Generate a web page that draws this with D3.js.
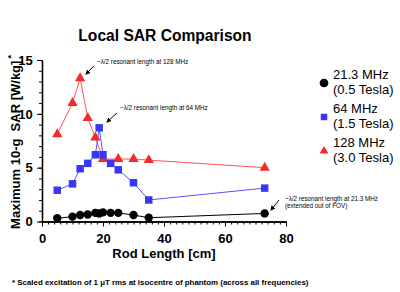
<!DOCTYPE html>
<html>
<head>
<meta charset="utf-8">
<script src="https://cdn.jsdelivr.net/npm/d3@7"></script>
<style>
  body { margin: 0; background: #fff; }
  text { font-family: "Liberation Sans", Arial, sans-serif; }
</style>
</head>
<body>
<svg id="draw" width="400" height="292"></svg>
<script>
// rod lengths (cm) and SAR values
var len21 = [5, 10, 12.5, 15, 17.5, 18.75, 20, 22.5, 25, 30, 35, 73];
var sar21 = [0.3, 0.45, 0.6, 0.65, 0.8, 0.75, 0.85, 0.8, 0.8, 0.6, 0.35, 0.75];
var len64 = [5, 10, 12.5, 15, 17.5, 18.75, 20, 22.5, 25, 30, 35, 73];
var sar64 = [2.9, 3.5, 4.9, 5.4, 6.2, 8.7, 6.2, 5.4, 4.8, 3.6, 2.0, 3.1];
var len128 = [5, 10, 12.5, 15, 17.5, 20, 25, 30, 35, 73];
var sar128 = [8.1, 11.0, 13.3, 9.6, 7.8, 5.8, 5.8, 5.8, 5.7, 5.0];

var xTicks = [0, 20, 40, 60, 80];
var yTicks = [0, 5, 10, 15];
var seriesNames = [["21.3 MHz", "(0.5 Tesla)"], ["64 MHz", "(1.5 Tesla)"], ["128 MHz", "(3.0 Tesla)"]];

var svg = d3.select("#draw");

var xScale = d3.scaleLinear().domain([0, 80]).range([42, 286]);
var yScale = d3.scaleLinear().domain([0, 15]).range([221.5, 60]);

// axes: major ticks with labels, then minor ticks
var xAxis = svg.append("g")
  .attr("transform", "translate(0," + yScale(0) + ")")
  .call(d3.axisBottom(xScale).tickValues(xTicks).tickSize(5).tickSizeOuter(0));
svg.append("g")
  .attr("transform", "translate(0," + yScale(0) + ")")
  .call(d3.axisBottom(xScale).tickValues(d3.range(0, 81, 2)).tickSize(3).tickFormat("").tickSizeOuter(0));

var yAxis = svg.append("g")
  .attr("transform", "translate(" + xScale(0) + ",0)")
  .call(d3.axisLeft(yScale).tickValues(yTicks).tickSize(5).tickSizeOuter(0));
svg.append("g")
  .attr("transform", "translate(" + xScale(0) + ",0)")
  .call(d3.axisLeft(yScale).tickValues(d3.range(0, 16, 1)).tickSize(3).tickFormat("").tickSizeOuter(0));

svg.selectAll(".domain").attr("stroke", "#000").attr("stroke-width", 1.3);
svg.selectAll(".tick line").attr("stroke", "#000").attr("stroke-width", 1);
xAxis.selectAll("text").attr("font-size", 13).attr("font-weight", "bold")
  .attr("font-family", "Liberation Sans").attr("fill", "#000").attr("dy", "1.05em");
yAxis.selectAll("text").attr("font-size", 13).attr("font-weight", "bold")
  .attr("font-family", "Liberation Sans").attr("fill", "#000").attr("dx", "-0.1em");

// title and axis labels
svg.append("text").attr("x", 165).attr("y", 41).attr("text-anchor", "middle")
  .attr("font-size", 15.6).attr("font-weight", "bold").text("Local SAR Comparison");

svg.append("text").attr("x", 164).attr("y", 258).attr("text-anchor", "middle")
  .attr("font-size", 13).attr("font-weight", "bold").text("Rod Length [cm]");

var yl = svg.append("text").attr("transform", "translate(20,142) rotate(-90)")
  .attr("text-anchor", "middle").attr("font-size", 13).attr("font-weight", "bold");
yl.append("tspan").text("Maximum 10-g\u00a0\u00a0SAR [W/kg]");
yl.append("tspan").attr("dx", 2).attr("dy", -6).attr("font-size", 9).text("*");

// lines + markers
function drawSeries(xs, ys, color, lineColor, shape) {
  var pts = xs.map(function(d, i) { return { x: d, y: ys[i] }; });
  var line = d3.line()
    .x(function(d) { return xScale(d.x); })
    .y(function(d) { return yScale(d.y); });
  svg.append("path").datum(pts).attr("d", line)
    .attr("fill", "none").attr("stroke", lineColor).attr("stroke-width", 1);
  svg.selectAll(null).data(pts).enter().append("path")
    .attr("transform", function(d) { return "translate(" + xScale(d.x) + "," + yScale(d.y) + ")"; })
    .attr("d", d3.symbol().type(shape.type).size(shape.size))
    .attr("fill", color);
}

drawSeries(len128, sar128, "#f42a2a", "#f55", { type: d3.symbolTriangle, size: 46 });
drawSeries(len64, sar64, "#3838f2", "#55f", { type: d3.symbolSquare, size: 56 });
drawSeries(len21, sar21, "#000", "#000", { type: d3.symbolCircle, size: 55 });

// legend
var legendColors = ["#000", "#3838f2", "#f42a2a"];
var legendShapes = [d3.symbolCircle, d3.symbolSquare, d3.symbolTriangle];
var legendSizes = [60, 42, 34];
seriesNames.forEach(function(nm, i) {
  var y0 = 79 + i * 34;
  svg.append("path")
    .attr("transform", "translate(324," + (y0 + 4) + ")")
    .attr("d", d3.symbol().type(legendShapes[i]).size(legendSizes[i]))
    .attr("fill", legendColors[i]);
  svg.append("text").attr("x", 333).attr("y", y0).attr("font-size", 13).text(nm[0]);
  svg.append("text").attr("x", 333).attr("y", y0 + 15).attr("font-size", 13).text(nm[1]);
});

// annotations with arrows
svg.append("defs").append("marker").attr("id", "arr")
  .attr("viewBox", "0 0 10 10").attr("refX", 8).attr("refY", 5)
  .attr("markerWidth", 5).attr("markerHeight", 5).attr("orient", "auto")
  .append("path").attr("d", "M0,0L10,5L0,10z").attr("fill", "#000");

var notes = [
  { lines: ["~\u03bb/2 resonant length at 128 MHz"], tx: 97, ty: 64, a: [94, 66, 86, 74] },
  { lines: ["~\u03bb/2 resonant length at 64 MHz"], tx: 120, ty: 110, a: [117, 113, 107, 122] },
  { lines: ["~\u03bb/2 resonant length at 21.3 MHz", "(extended out of  FOV)"], tx: 285, ty: 201, a: [279, 200, 271, 210] }
];
notes.forEach(function(n) {
  n.lines.forEach(function(l, j) {
    svg.append("text").attr("x", n.tx).attr("y", n.ty + j * 6.5).attr("font-size", 6.3).text(l);
  });
  svg.append("line").attr("x1", n.a[0]).attr("y1", n.a[1]).attr("x2", n.a[2]).attr("y2", n.a[3])
    .attr("stroke", "#000").attr("stroke-width", 1).attr("marker-end", "url(#arr)");
});

// footnote
svg.append("text").attr("x", 12).attr("y", 285).attr("font-size", 7.9).attr("font-weight", "bold")
  .text("* Scaled excitation of 1 \u03bcT rms at isocentre of phantom (across all frequencies)");
</script>
</body>
</html>
